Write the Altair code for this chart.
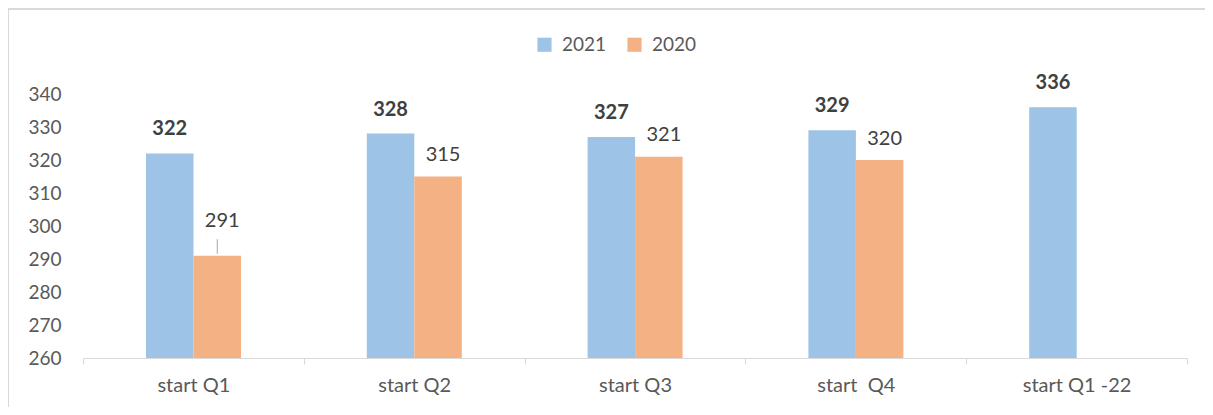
import altair as alt
import pandas as pd

categories = ["start Q1", "start Q2", "start Q3", "start \u00a0Q4", "start Q1 -22"]
series_2021 = [322, 328, 327, 329, 336]
series_2020 = [291, 315, 321, 320, None]
series_names = ["2021", "2020"]
colors = ["#9DC3E6", "#F4B183"]
y_ticks = [260, 270, 280, 290, 300, 310, 320, 330, 340]

rows = []
for c, a, b in zip(categories, series_2021, series_2020):
    rows.append({"cat": c, "series": "2021", "value": a})
    if b is not None:
        rows.append({"cat": c, "series": "2020", "value": b})
df = pd.DataFrame(rows)

FONT = "Lato"
TXT = "#595959"
YDOM = [260, 340]

x = alt.X("cat:N", sort=categories, title=None,
          scale=alt.Scale(paddingInner=0, paddingOuter=0),
          axis=alt.Axis(tickBand="extent", labelAngle=0, labelFontSize=20,
                        labelColor=TXT, labelFont=FONT, labelPadding=11,
                        domainColor="#d9d9d9", tickColor="#d9d9d9",
                        tickSize=6, domainWidth=1, grid=False))
xo = alt.XOffset("series:N", sort=series_names,
                 scale=alt.Scale(range=[63, 158], paddingInner=0, paddingOuter=0))
y_scale = alt.Scale(domain=YDOM, nice=False)
y_axis = alt.Axis(values=y_ticks, grid=False, domain=False, ticks=False,
                  labelFontSize=19, labelColor=TXT, labelFont=FONT,
                  labelPadding=22, labelOverlap=False)
y = alt.Y("value:Q", title=None, scale=y_scale, axis=y_axis)
color = alt.Color("series:N", sort=series_names,
                  scale=alt.Scale(domain=series_names, range=colors),
                  legend=alt.Legend(title=None, orient="none", direction="horizontal",
                                    legendX=452, legendY=-59, symbolType="square",
                                    symbolSize=200, symbolStrokeWidth=0,
                                    labelFontSize=19, labelColor=TXT, labelFont=FONT,
                                    labelOffset=8, columnPadding=18, symbolOpacity=1))

base = alt.Chart(df)
bars = base.mark_bar(opacity=1, clip=True).encode(x=x, xOffset=xo, y=y, color=color)

labels_2021 = base.transform_filter("datum.series == '2021'").mark_text(
    fontWeight="bold", fontSize=20, font=FONT, color="#404040",
    baseline="middle", dy=-24).encode(
    x=x, xOffset=xo, y=y, text="value:Q")

labels_2020 = base.transform_filter("datum.series == '2020'").transform_calculate(
    lift="datum.value < 300 ? datum.value + 10.5 : datum.value + 6.5").mark_text(
    fontSize=20, font=FONT, color="#404040", baseline="middle", dx=5).encode(
    x=x, xOffset=xo,
    y=alt.Y("lift:Q", title=None, scale=y_scale, axis=y_axis),
    text="value:Q")

leader = base.transform_filter("datum.series == '2020' && datum.value < 300").transform_calculate(
    y1="datum.value + 0.6", y2="datum.value + 5").mark_rule(
    color="#a6a6a6", strokeWidth=1).encode(
    x=x, xOffset=xo,
    y=alt.Y("y1:Q", title=None, scale=y_scale, axis=y_axis), y2="y2:Q")

border_top = alt.Chart(pd.DataFrame({"k": [0]})).mark_rule(color="#d9d9d9", strokeWidth=2).encode(
    x=alt.value(-75), x2=alt.value(1122), y=alt.value(-85))
border_left = alt.Chart(pd.DataFrame({"k": [0]})).mark_rule(color="#d9d9d9", strokeWidth=2).encode(
    x=alt.value(-75), y=alt.value(-85), y2=alt.value(313))

chart = alt.layer(border_top, border_left, bars, leader, labels_2021, labels_2020).properties(
    width=1104, height=264,
    autosize=alt.AutoSizeParams(type="none"),
    padding={"left": 75, "top": 86, "right": 18, "bottom": 49},
).configure(background="white").configure_view(stroke=None)

chart.save("out.html", embed_options={"renderer": "svg", "actions": False})
